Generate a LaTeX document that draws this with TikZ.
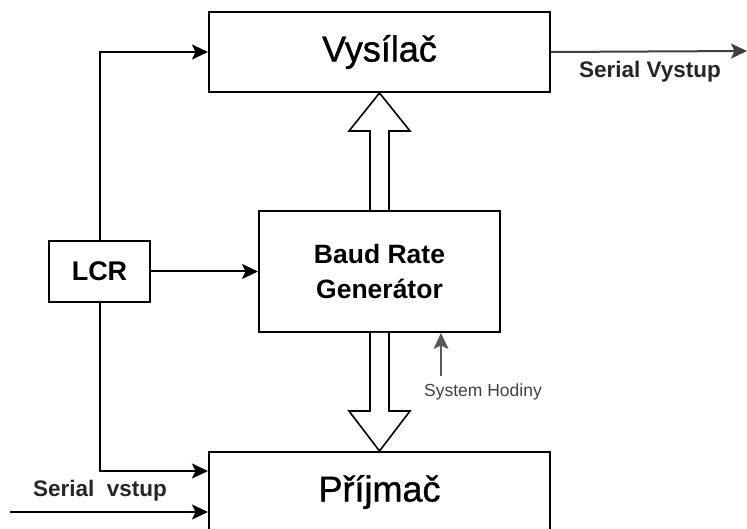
\documentclass[tikz,border=0pt]{standalone}
\usepackage{fontspec}
\setmainfont{Liberation Sans}
\usetikzlibrary{arrows.meta,calc}

\begin{document}
\begin{tikzpicture}[x=1pt, y=1pt,
  block/.style={draw, line width=2pt, inner sep=0pt, align=center},
  title/.style={font=\addfontfeature{FakeBold=1}\fontsize{36}{40}\selectfont},
  wire/.style={-{Stealth[length=16pt,width=15pt,inset=3.5pt]}, line width=2pt},
  hollow/.style={draw, line width=1.6pt, fill=white, line join=miter},
  tag/.style={font=\bfseries\fontsize{22.5}{24}\selectfont, text=black!85},
]
  \clip (0,0) rectangle (747,528);

  % Blocks
  \node[block, title, minimum width=341pt, minimum height=80pt] (vys) at (379.5,476) {Vysílač};
  \node[block, minimum width=241pt, minimum height=121pt,
        font=\bfseries\fontsize{26.5}{35}\selectfont] (baud) at (379.5,256.5) {Baud Rate\\Generátor};
  \node[block, minimum width=101pt, minimum height=61pt,
        font=\bfseries\fontsize{27}{30}\selectfont] (lcr) at (99.5,256.5) {LCR};
  \node[block, title, minimum width=341pt, minimum height=80pt] (prij) at (379.5,36) {Příjmač};

  % Free ends
  \coordinate (out) at (747,477);
  \coordinate (in) at (10,16);
  \coordinate (clk) at (441,152);

  % Wide arrows from the generator
  \draw[hollow] ($(baud.north)+(-9.5,0)$) -- ($(vys.south)+(-9.5,-38)$)
    -- ($(vys.south)+(-30.5,-38)$) -- (vys.south) -- ($(vys.south)+(30.5,-38)$)
    -- ($(vys.south)+(9.5,-38)$) -- ($(baud.north)+(9.5,0)$);
  \draw[hollow] ($(baud.south)+(-9.5,0)$) -- ($(prij.north)+(-9.5,40)$)
    -- ($(prij.north)+(-30.5,40)$) -- (prij.north) -- ($(prij.north)+(30.5,40)$)
    -- ($(prij.north)+(9.5,40)$) -- ($(baud.south)+(9.5,0)$);

  % Control lines
  \draw[wire] (lcr.north) |- (vys.west);
  \draw[wire] (lcr) -- (baud);
  \draw[wire] (lcr.south) |- ($(prij.west)+(0,21)$);
  \draw[wire] (in) -- (in -| prij.west);
  \draw[wire, black!75] (vys.east) -- (out);
  \draw[wire, black!65] (clk) -- (clk |- baud.south);

  % Labels
  \node[tag] (outtxt) at (650,456) {Serial Vystup};
  \node[tag] (intxt) at (100,37) {Serial\ \ vstup};
  \node[font=\fontsize{17.5}{20}\selectfont, text=black!75] (clktxt) at (483,136) {System Hodiny};
\end{tikzpicture}
\end{document}
